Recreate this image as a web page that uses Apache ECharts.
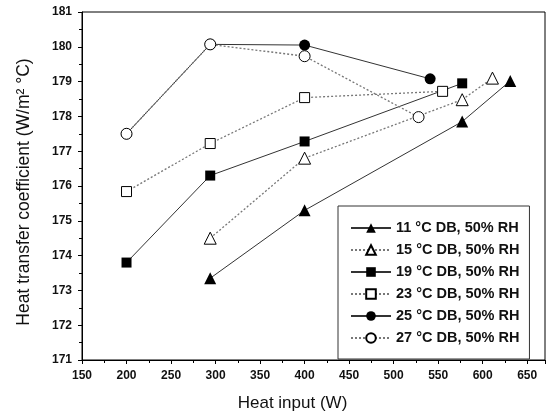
<!DOCTYPE html>
<html>
<head>
<meta charset="utf-8">
<script src="https://cdn.jsdelivr.net/npm/echarts@6/dist/echarts.min.js"></script>
<style>html,body{margin:0;padding:0;background:#fff;}#c{width:547px;height:414px;}</style>
</head>
<body>
<div id="c"></div>
<script>
// Data
var seriesNames = ['11 °C DB, 50% RH','15 °C DB, 50% RH','19 °C DB, 50% RH','23 °C DB, 50% RH','25 °C DB, 50% RH','27 °C DB, 50% RH'];
var x11 = [294, 400, 577, 631];
var y11 = [173.35, 175.3, 177.85, 179.02];
var x15 = [294, 400, 577, 611];
var y15 = [174.5, 176.8, 178.48, 179.1];
var x19 = [200, 294, 400, 577];
var y19 = [173.8, 176.3, 177.28, 178.95];
var x23 = [200, 294, 400, 555];
var y23 = [175.84, 177.22, 178.54, 178.72];
var x25 = [200, 294, 400, 541];
var y25 = [177.5, 180.07, 180.05, 179.08];
var x27 = [200, 294, 400, 528];
var y27 = [177.5, 180.07, 179.73, 177.98];

function pairs(xs, ys){ return xs.map(function(x,i){ return [x, ys[i]]; }); }

var FONT = 'Liberation Sans';
function mk(name, xs, ys, symbol, filled, dotted, size){
  return {
    name: name, type: 'line', data: pairs(xs, ys),
    symbol: symbol, symbolSize: size,
    lineStyle: { color: dotted ? '#777' : '#333', width: dotted ? 1.3 : 1, type: dotted ? [2,2] : 'solid' },
    itemStyle: { color: filled ? '#000' : '#fff', borderColor: '#000', borderWidth: filled ? 0 : 1 },
    emphasis: { disabled: true },
    animation: false
  };
}

var chart = echarts.init(document.getElementById('c'), null, {renderer: 'canvas'});
chart.setOption({
  backgroundColor: '#fff',
  animation: false,
  grid: { left: 82, right: 2, top: 12, bottom: 54, containLabel: false, outerBoundsMode: 'none', show: true, borderColor: '#000', borderWidth: 1, backgroundColor: 'transparent' },
  xAxis: {
    type: 'value', min: 150, max: 670, interval: 50,
    name: 'Heat input (W)', nameLocation: 'middle', nameGap: 35,
    nameTextStyle: { fontFamily: FONT, fontSize: 17, color: '#111', padding: [0, 42, 0, 0] },
    axisLine: { show: true, lineStyle: { color: '#000', width: 1 } },
    axisTick: { show: true, length: 4, lineStyle: { color: '#000' } },
    minorTick: { show: true, splitNumber: 2, length: 3, lineStyle: { color: '#000' } },
    axisLabel: { fontFamily: FONT, fontWeight: 'bold', fontSize: 12, color: '#111', margin: 10, showMaxLabel: false },
    splitLine: { show: false }
  },
  yAxis: {
    type: 'value', min: 171, max: 181, interval: 1,
    name: 'Heat transfer coefficient (W/m² °C)', nameLocation: 'middle', nameGap: 49,
    nameTextStyle: { fontFamily: FONT, fontSize: 17.5, color: '#111', padding: [0, 12, 0, 0] },
    axisLine: { show: true, lineStyle: { color: '#000', width: 1 } },
    axisTick: { show: true, length: 4, lineStyle: { color: '#000' } },
    minorTick: { show: true, splitNumber: 2, length: 3, lineStyle: { color: '#000' } },
    axisLabel: { fontFamily: FONT, fontWeight: 'bold', fontSize: 12, color: '#111', margin: 10 },
    splitLine: { show: false }
  },
  legend: {
    orient: 'vertical', left: 338, top: 206,
    backgroundColor: '#fff', borderColor: '#333', borderWidth: 1,
    padding: [14, 10, 13, 12], itemGap: 6, itemWidth: 40, itemHeight: 12,
    textStyle: { fontFamily: FONT, fontWeight: 'bold', fontSize: 14.5, color: '#111', lineHeight: 16 },
    data: seriesNames
  },
  series: [
    mk(seriesNames[0], x11, y11, 'triangle', true, false, 12),
    mk(seriesNames[1], x15, y15, 'triangle', false, true, 12),
    mk(seriesNames[2], x19, y19, 'rect', true, false, 10),
    mk(seriesNames[3], x23, y23, 'rect', false, true, 10),
    mk(seriesNames[4], x25, y25, 'circle', true, false, 11),
    mk(seriesNames[5], x27, y27, 'circle', false, true, 11)
  ]
});
</script>
</body>
</html>
